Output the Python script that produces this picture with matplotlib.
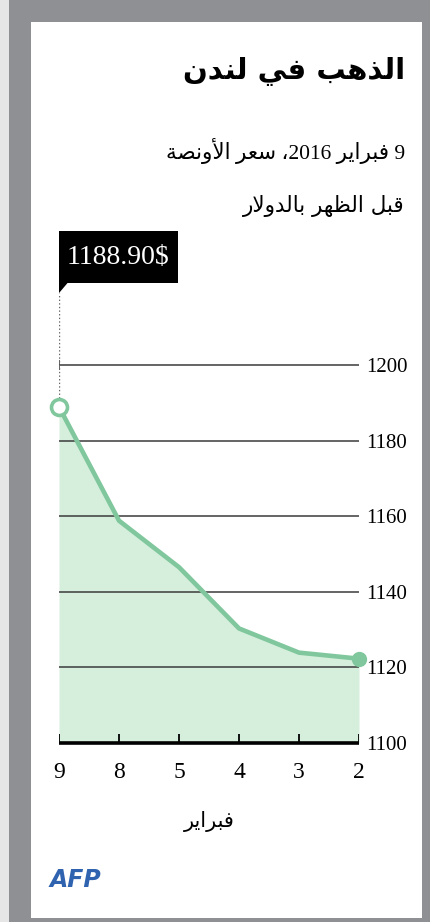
import re
import matplotlib
matplotlib.use("Agg")
import matplotlib.pyplot as plt
from matplotlib.patches import Rectangle, Polygon

# data (London gold, AM fix, USD per ounce)
days = ["9", "8", "5", "4", "3", "2"]
prices = [1188.90, 1158.8, 1146.5, 1130.3, 1123.9, 1122.3]
y_ticks = [1100, 1120, 1140, 1160, 1180, 1200]
callout = "1188.90$"

title = "الذهب في لندن"
sub1 = "9 فبراير 2016، سعر الأونصة"
sub2 = "قبل الظهر بالدولار"
month = "فبراير"

# minimal arabic shaping: presentation forms + right-to-left order
AR_FORMS = {
    'ا': (0xFE8D, 2), 'أ': (0xFE83, 2), 'ب': (0xFE8F, 4), 'ة': (0xFE93, 2),
    'د': (0xFEA9, 2), 'ذ': (0xFEAB, 2), 'ر': (0xFEAD, 2), 'س': (0xFEB1, 4),
    'ص': (0xFEB9, 4), 'ظ': (0xFEC5, 4), 'ع': (0xFEC9, 4), 'ف': (0xFED1, 4),
    'ق': (0xFED5, 4), 'ل': (0xFEDD, 4), 'ن': (0xFEE5, 4), 'ه': (0xFEE9, 4),
    'و': (0xFEED, 2), 'ي': (0xFEF1, 4),
}
LAM_ALEF = {'ا': 0xFEFB, 'أ': 0xFEF7}


def shape(text):
    out = []
    i, n = 0, len(text)
    while i < n:
        c = text[i]
        if c not in AR_FORMS:
            out.append(c)
            i += 1
            continue
        prev = text[i - 1] if i > 0 else ''
        joins_prev = prev in AR_FORMS and AR_FORMS[prev][1] == 4
        if c == 'ل' and i + 1 < n and text[i + 1] in LAM_ALEF:
            out.append(chr(LAM_ALEF[text[i + 1]] + joins_prev))
            i += 2
            continue
        base, nf = AR_FORMS[c]
        nxt = text[i + 1] if i + 1 < n else ''
        joins_next = nf == 4 and nxt in AR_FORMS
        if joins_prev and joins_next:
            g = base + 3
        elif joins_next:
            g = base + 2
        elif joins_prev:
            g = base + 1
        else:
            g = base
        out.append(chr(g))
        i += 1
    vis = ''.join(reversed(out))
    return re.sub(r'[0-9.]+', lambda m: m.group(0)[::-1], vis)


W, H = 431, 922
GREEN = "#80c79d"
FILL = "#d6efdc"
SERIF = ["Liberation Serif", "DejaVu Sans"]

fig = plt.figure(figsize=(W / 100, H / 100), dpi=100)
fig.patch.set_facecolor("#8e9093")


def fx(x):
    return x / W


def fy(y):
    return 1 - y / H


# white panel + light strip on the far left (behind the axes)
fig.add_artist(Rectangle((0, 0), fx(9), 1, transform=fig.transFigure,
                         fc="#e6e6e6", ec="none", zorder=-2))
fig.add_artist(Rectangle((fx(31), fy(918)), fx(391), fy(22) - fy(918),
                         transform=fig.transFigure, fc="white", ec="none",
                         zorder=-2))

# titles
fig.text(fx(405), fy(71), shape(title), ha="right", va="center",
         fontsize=21, fontweight="bold", family="DejaVu Sans")
fig.text(fx(405), fy(151), shape(sub1), ha="right", va="center",
         fontsize=15.5, family=SERIF)
fig.text(fx(405), fy(206), shape(sub2), ha="right", va="center",
         fontsize=15.5, family="DejaVu Sans")

# chart axes: x index 0 -> 59px, 5 -> 359px ; 1100 -> 743px
ax = fig.add_axes([fx(59), fy(743), fx(300), fy(225) - fy(743)])
ax.set_xlim(0, len(days) - 1)
ax.set_ylim(1100, 1237)
ax.patch.set_alpha(0)
for s in ax.spines.values():
    s.set_visible(False)

x = list(range(len(days)))
ax.fill_between(x, prices, 1100, color=FILL, lw=0, zorder=1)
ax.hlines(y_ticks[1:], 0, len(days) - 1, color="#3a3a3a", lw=1.1, zorder=2)
ax.vlines(x[0], 1198.6, 1201.4, color="#3a3a3a", lw=1.1, zorder=2)
ax.hlines(1100, 0, len(days) - 1, color="black", lw=2.6, zorder=3, clip_on=False)
ax.vlines(x, 1100, 1102.3, color="black", lw=1.3, zorder=3)
ax.plot(x, prices, color=GREEN, lw=3.3, solid_capstyle="round",
        solid_joinstyle="round", zorder=4)
ax.plot(x[0], prices[0], "o", ms=11.5, mfc="white", mec=GREEN, mew=2.6,
        zorder=5, clip_on=False)
ax.plot(x[-1], prices[-1], "o", ms=10, color=GREEN, zorder=5, clip_on=False)

# callout box with pointer and dotted leader
ax.vlines(x[0], prices[0] + 2.4, 1219, color="#666666", lw=1.0,
          linestyles=(0, (1, 1.6)), zorder=3)
ax.add_patch(Rectangle((x[0], 1221.6), 1.98, 13.8, fc="black", ec="none",
                       clip_on=False, zorder=6))
ax.add_patch(Polygon([(x[0], 1221.8), (x[0] + 0.15, 1221.8), (x[0], 1219)],
                     closed=True, fc="black", ec="none", clip_on=False, zorder=6))
ax.text(x[0] + 0.99, 1228.4, callout, color="white", ha="center", va="center",
        fontsize=20, family="Liberation Serif", zorder=7)

ax.yaxis.tick_right()
ax.set_yticks(y_ticks, [str(t) for t in y_ticks])
ax.tick_params(axis="y", length=0, pad=5, labelsize=15)
ax.set_xticks(x, days)
ax.tick_params(axis="x", length=0, pad=14, labelsize=17)
for lab in ax.get_xticklabels() + ax.get_yticklabels():
    lab.set_family("Liberation Serif")
ax.set_xlabel(shape(month), fontsize=15, family="DejaVu Sans", labelpad=20)

# agency mark
fig.text(fx(50), fy(880), "AFP", ha="left", va="center", fontsize=17,
         fontweight="bold", style="italic", color="#2f63b0", family="DejaVu Sans")

fig.savefig("out.png", dpi=100, facecolor=fig.get_facecolor())
